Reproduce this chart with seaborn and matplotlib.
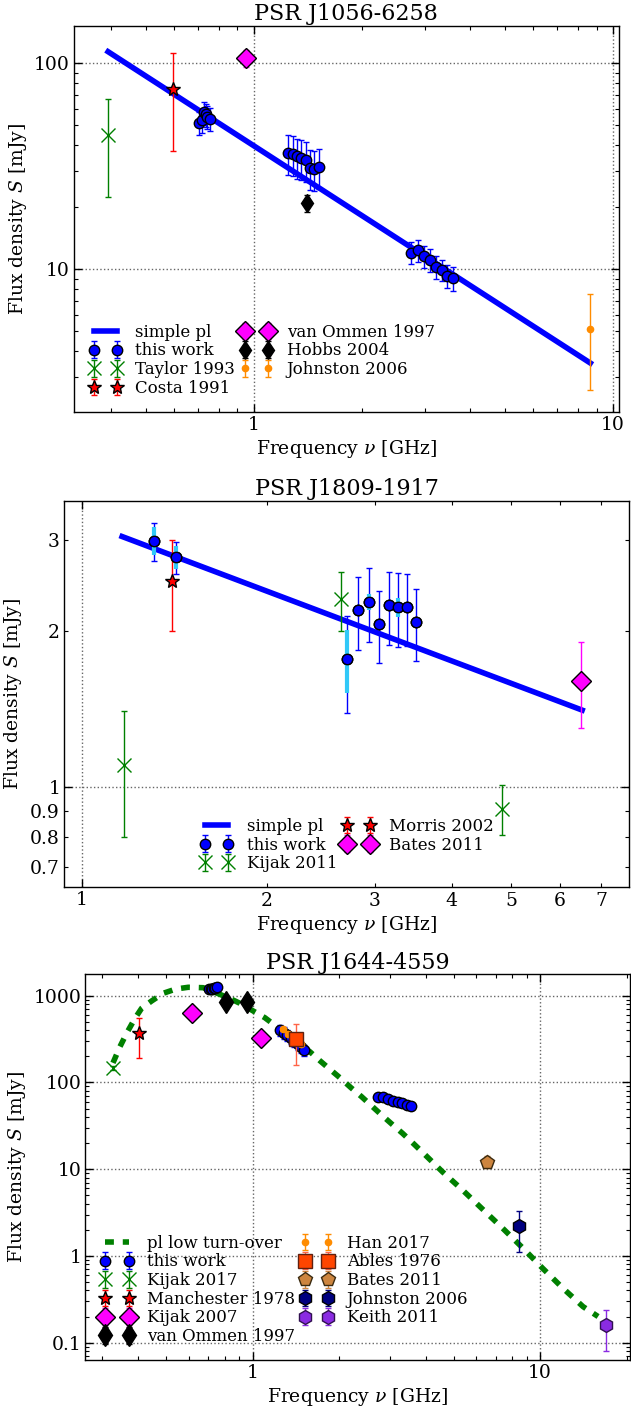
import numpy as np
import matplotlib
matplotlib.use('Agg')
import matplotlib.pyplot as plt
import matplotlib.ticker as mticker
import seaborn as sns

# ---------------- PSR J1056-6258 ----------------
j1056_fit_freq = [0.393, 8.65]
j1056_fit_flux = [114.0, 3.5]

j1056_work_freq = [0.706, 0.717, 0.725, 0.734, 0.742, 0.753,
                   1.242, 1.282, 1.319, 1.356, 1.398, 1.437, 1.474, 1.515,
                   2.737, 2.867, 2.979, 3.097, 3.212, 3.337, 3.452, 3.580]
j1056_work_flux = [51.3, 52.8, 57.8, 56.5, 55.2, 53.7,
                   36.7, 36.4, 35.3, 34.7, 34.0, 31.0, 30.8, 31.3,
                   12.05, 12.33, 11.53, 11.11, 10.3, 9.93, 9.29, 9.02]
j1056_work_err = [6.5, 6.8, 7.4, 7.2, 7.1, 6.9,
                  8.1, 8.0, 7.8, 7.6, 7.5, 6.8, 6.8, 6.9,
                  1.5, 1.5, 1.4, 1.4, 1.3, 1.2, 1.2, 1.2]

j1056_taylor = ([0.393], [45.0], [22.5])
j1056_costa = ([0.597], [75.0], [37.5])
j1056_vanommen = ([0.95], [106.0], [10.0])
j1056_hobbs = ([1.406], [21.0], [2.0])
j1056_johnston = ([8.65], [5.1], [2.5])

# ---------------- PSR J1809-1917 ----------------
j1809_fit_freq = [1.163, 6.52]
j1809_fit_flux = [3.04, 1.406]

j1809_work_freq = [1.31, 1.425, 2.70, 2.82, 2.93, 3.04, 3.16, 3.27, 3.38, 3.50]
j1809_work_flux = [2.98, 2.77, 1.765, 2.19, 2.27, 2.06, 2.24, 2.22, 2.22, 2.08]
j1809_work_err = [0.25, 0.20, 0.375, 0.35, 0.37, 0.33, 0.36, 0.36, 0.35, 0.33]
j1809_work_stat = [0.185, 0.14, 0.245, 0.04, 0.08, 0.04, 0.04, 0.09, 0.04, 0.04]

j1809_kijak = ([1.171, 2.64, 4.83], [1.10, 2.30, 0.906], [0.30, 0.30, 0.10])
j1809_morris = ([1.40], [2.50], [0.50])
j1809_bates = ([6.49], [1.60], [0.30])

# ---------------- PSR J1644-4559 ----------------
j1644_fit_freq = [0.327, 0.3457, 0.3648, 0.390, 0.4113, 0.4456, 0.4889, 0.5413,
                  0.5974, 0.6734, 0.8226, 0.9034, 1.1035, 1.582, 1.714, 1.856,
                  2.023, 2.19, 2.393, 2.808, 3.056, 3.322, 3.598, 3.898, 4.57,
                  5.37, 6.31, 7.41, 8.71, 10.2, 12.0, 14.1, 15.9]
j1644_fit_flux = [168, 258, 369, 548, 716, 869, 1066, 1194,
                  1250, 1236, 948, 817, 557, 226, 178, 142,
                  111.6, 87.9, 68.5, 42.2, 32.9, 25.9, 20.2, 15.66, 9.35,
                  5.75, 3.45, 2.08, 1.23, 0.72, 0.424, 0.26, 0.20]

j1644_work_freq = [0.706, 0.717, 0.725, 0.734, 0.742, 0.753,
                   1.242, 1.282, 1.319, 1.356, 1.398, 1.437, 1.474, 1.515,
                   2.72, 2.85, 2.96, 3.09, 3.21, 3.32, 3.43, 3.55]
j1644_work_flux = [1190, 1200, 1210, 1220, 1230, 1250,
                   400, 375, 350, 325, 300, 280, 255, 237,
                   68.5, 68.0, 64.4, 61.1, 59.0, 57.5, 55.4, 53.6]
j1644_work_err = [40, 40, 40, 40, 40, 40,
                  60, 56, 52, 49, 45, 42, 38, 36,
                  2.0, 2.0, 2.0, 2.0, 2.0, 2.0, 2.0, 2.0]

j1644_kijak17 = ([0.328], [146.0], [8.0])
j1644_manchester = ([0.403], [375.0], [185.0])
j1644_kijak07 = ([0.614, 1.066], [637.0, 328.0], [20.0, 15.0])
j1644_vanommen = ([0.808, 0.958], [853.0, 853.0], [40.0, 40.0])
j1644_han = ([1.28, 1.33, 1.40, 1.47], [410.0, 360.0, 320.0, 278.0], [20.0, 18.0, 16.0, 14.0])
j1644_ables = ([1.411], [314.0], [156.0])
j1644_bates = ([6.52], [12.2], [1.9])
j1644_johnston = ([8.43], [2.21], [1.1])
j1644_keith = ([17.0], [0.16], [0.08])

GREEN = (0.0, 0.5, 0.0)
CYAN = '#30c8f8'

STYLES = {
    'work': dict(fmt='o', color='b', mec='k', ms=7.5, ecolor='b'),
    'cross': dict(fmt='x', color=GREEN, mec=GREEN, ms=10, ecolor=GREEN),
    'star': dict(fmt='*', color='r', mec='k', ms=10, ecolor='r'),
    'diamond': dict(fmt='D', color='magenta', mec='k', ms=10.5, ecolor='magenta'),
    'thin': dict(fmt='d', color='k', mec='k', ms=9.5, ecolor='k'),
    'bigthin': dict(fmt='d', color='k', mec='k', ms=11.5, ecolor='k'),
    'dot': dict(fmt='o', color='darkorange', mec='darkorange', ms=4.5, ecolor='darkorange'),
    'square': dict(fmt='s', color='orangered', mec='#602010', ms=10.5, ecolor='tomato'),
    'pent': dict(fmt='p', color='peru', mec='#3a2a10', ms=10.5, ecolor='peru'),
    'navy': dict(fmt='h', color='navy', mec='k', ms=10, ecolor='navy'),
    'violet': dict(fmt='h', color='blueviolet', mec='#301050', ms=10, ecolor='blueviolet'),
}

sns.set_style('ticks')
plt.rcParams['font.family'] = ['DejaVu Serif']
plt.rcParams['mathtext.fontset'] = 'dejavuserif'
plt.rcParams.update({
    'xtick.direction': 'in', 'ytick.direction': 'in',
    'xtick.top': True, 'ytick.right': True,
    'xtick.major.size': 5.5, 'ytick.major.size': 5.5,
    'xtick.minor.size': 3, 'ytick.minor.size': 3,
    'xtick.major.width': 1, 'ytick.major.width': 1,
    'xtick.minor.width': 0.8, 'ytick.minor.width': 0.8,
    'xtick.color': 'k', 'ytick.color': 'k',
    'xtick.labelsize': 13.5, 'ytick.labelsize': 13.5,
    'xtick.major.pad': 3, 'ytick.major.pad': 2.5,
    'axes.edgecolor': 'k', 'axes.linewidth': 1,
    'axes.labelsize': 13.5, 'axes.titlesize': 16,
    'text.color': 'k', 'axes.labelcolor': 'k',
})


def plot_points(ax, data, style, zorder=3):
    freq, flux, err = data
    kw = dict(STYLES[style])
    return ax.errorbar(freq, flux, yerr=err, capsize=2.5, capthick=1, elinewidth=1,
                       mew=1, zorder=zorder, **kw)


def fmt_g(v, pos):
    return '%g' % v


def minor_labels(values):
    def f(v, pos):
        for t in values:
            if abs(v - t) < 1e-6 * t:
                return '%g' % v
        return ''
    return mticker.FuncFormatter(f)


def setup_axis(ax, title, xlim, ylim):
    ax.set_xscale('log')
    ax.set_yscale('log')
    ax.set_xlim(*xlim)
    ax.set_ylim(*ylim)
    ax.set_title(title, pad=4)
    ax.set_xlabel(r'Frequency $\nu$ [GHz]', labelpad=3)
    ax.set_ylabel(r'Flux density $S$ [mJy]', labelpad=4)
    ax.xaxis.set_major_formatter(mticker.FuncFormatter(fmt_g))
    ax.yaxis.set_major_formatter(mticker.FuncFormatter(fmt_g))
    ax.xaxis.set_minor_formatter(mticker.NullFormatter())
    ax.yaxis.set_minor_formatter(mticker.NullFormatter())
    ax.grid(True, which='major', linestyle=':', color='0.4', linewidth=1)
    ax.set_axisbelow(True)


def add_legend(ax, handles, labels, loc):
    ax.legend(handles, labels, loc=loc, frameon=False, numpoints=2, ncol=2,
              fontsize=12, handlelength=2, columnspacing=0.3, labelspacing=0.1,
              handletextpad=0.8, borderaxespad=0.5)


fig = plt.figure(figsize=(6.31, 14.12), dpi=100)

# ---- panel 1 ----
ax1 = fig.add_axes([0.1166, 0.7084, 0.8645, 0.2732])
setup_axis(ax1, 'PSR J1056-6258', (0.315, 10.4), (2.03, 152))
sns.lineplot(x=j1056_fit_freq, y=j1056_fit_flux, ax=ax1, color='b', linewidth=4,
             solid_capstyle='projecting', zorder=2)
fit1 = ax1.lines[-1]
h_work = plot_points(ax1, (j1056_work_freq, j1056_work_flux, j1056_work_err), 'work')
h_tay = plot_points(ax1, j1056_taylor, 'cross')
h_cos = plot_points(ax1, j1056_costa, 'star')
h_vom = plot_points(ax1, j1056_vanommen, 'diamond')
h_hob = plot_points(ax1, j1056_hobbs, 'thin')
h_joh = plot_points(ax1, j1056_johnston, 'dot')
add_legend(ax1, [fit1, h_work, h_tay, h_cos, h_vom, h_hob, h_joh],
           ['simple pl', 'this work', 'Taylor 1993', 'Costa 1991',
            'van Ommen 1997', 'Hobbs 2004', 'Johnston 2006'], 'lower left')

# ---- panel 2 ----
ax2 = fig.add_axes([0.1021, 0.3716, 0.8947, 0.2736])
setup_axis(ax2, 'PSR J1809-1917', (0.937, 7.77), (0.64, 3.56))
ax2.xaxis.set_minor_formatter(minor_labels([2, 3, 4, 5, 6, 7]))
ax2.yaxis.set_minor_formatter(minor_labels([0.7, 0.8, 0.9, 2, 3]))
sns.lineplot(x=j1809_fit_freq, y=j1809_fit_flux, ax=ax2, color='b', linewidth=4,
             solid_capstyle='projecting', zorder=2)
fit2 = ax2.lines[-1]
h_work = plot_points(ax2, (j1809_work_freq, j1809_work_flux, j1809_work_err), 'work')
ax2.errorbar(j1809_work_freq, j1809_work_flux, yerr=j1809_work_stat, fmt='none',
             ecolor=CYAN, elinewidth=3, capsize=0, zorder=3.5)
sns.scatterplot(x=j1809_work_freq, y=j1809_work_flux, ax=ax2, marker='o', color='b',
                edgecolor='k', linewidth=1, s=7.5 ** 2, zorder=4, legend=False)
h_kij = plot_points(ax2, j1809_kijak, 'cross')
h_mor = plot_points(ax2, j1809_morris, 'star')
h_bat = plot_points(ax2, j1809_bates, 'diamond')
add_legend(ax2, [fit2, h_work, h_kij, h_mor, h_bat],
           ['simple pl', 'this work', 'Kijak 2011', 'Morris 2002', 'Bates 2011'],
           'lower center')

# ---- panel 3 ----
ax3 = fig.add_axes([0.1352, 0.0368, 0.8629, 0.2732])
setup_axis(ax3, 'PSR J1644-4559', (0.262, 20.5), (0.063, 1765))
sns.lineplot(x=j1644_fit_freq, y=j1644_fit_flux, ax=ax3, color=GREEN, linewidth=4,
             linestyle=(0, (1.6, 1.6)), dash_capstyle='butt', zorder=2)
fit3 = ax3.lines[-1]
h_work = plot_points(ax3, (j1644_work_freq, j1644_work_flux, j1644_work_err), 'work')
h_k17 = plot_points(ax3, j1644_kijak17, 'cross')
h_man = plot_points(ax3, j1644_manchester, 'star')
h_k07 = plot_points(ax3, j1644_kijak07, 'diamond', zorder=3)
h_vom = plot_points(ax3, j1644_vanommen, 'bigthin')
h_han = plot_points(ax3, j1644_han, 'dot', zorder=3.2)
h_abl = plot_points(ax3, j1644_ables, 'square', zorder=3.4)
h_bat = plot_points(ax3, j1644_bates, 'pent')
h_joh = plot_points(ax3, j1644_johnston, 'navy')
h_kei = plot_points(ax3, j1644_keith, 'violet')
add_legend(ax3, [fit3, h_work, h_k17, h_man, h_k07, h_vom,
                 h_han, h_abl, h_bat, h_joh, h_kei],
           ['pl low turn-over', 'this work', 'Kijak 2017', 'Manchester 1978',
            'Kijak 2007', 'van Ommen 1997', 'Han 2017', 'Ables 1976',
            'Bates 2011', 'Johnston 2006', 'Keith 2011'], 'lower left')

fig.savefig('out.png', dpi=100)
